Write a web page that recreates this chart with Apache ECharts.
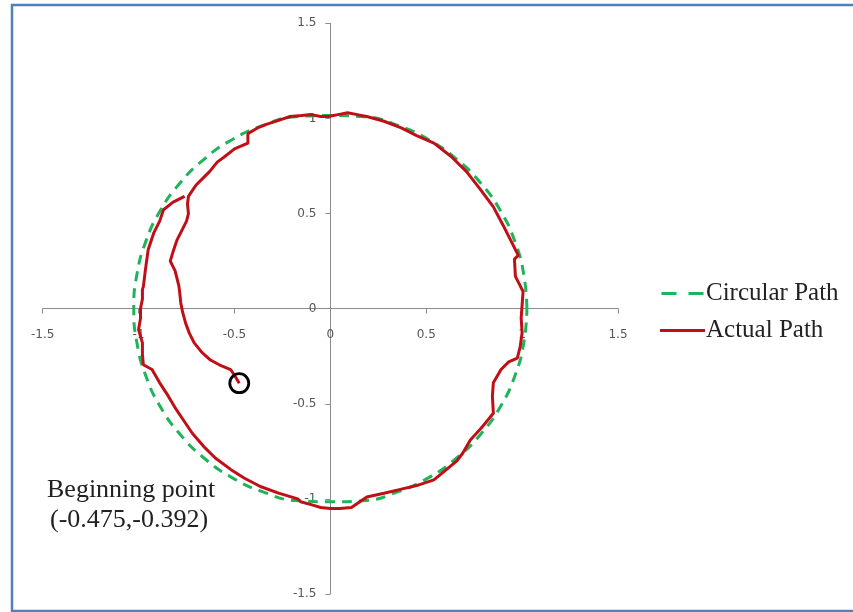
<!DOCTYPE html>
<html>
<head>
<meta charset="utf-8">
<script src="https://cdn.jsdelivr.net/npm/echarts@6/dist/echarts.min.js"></script>
<style>
html,body{margin:0;padding:0;background:#fff;}
#chart{width:853px;height:612px;}
</style>
</head>
<body>
<div id="chart"></div>
<script>
// Axis ticks
const xTicks = [-1.5, -1, -0.5, 0, 0.5, 1, 1.5];
const yTicks = [-1.5, -1, -0.5, 0, 0.5, 1, 1.5];

// Circular (reference) path, read every 10 degrees
const circleX = [1.025, 1.009, 0.963, 0.888, 0.785, 0.659, 0.513, 0.351, 0.178, 0,
  -0.178, -0.351, -0.513, -0.659, -0.785, -0.888, -0.963, -1.009, -1.025,
  -1.009, -0.963, -0.888, -0.785, -0.659, -0.513, -0.351, -0.178, 0,
  0.178, 0.351, 0.513, 0.659, 0.785, 0.888, 0.963, 1.009, 1.025];
const circleY = [0, 0.178, 0.351, 0.513, 0.659, 0.785, 0.888, 0.963, 1.009, 1.015,
  1.009, 0.963, 0.888, 0.785, 0.659, 0.513, 0.351, 0.178, 0,
  -0.178, -0.351, -0.513, -0.659, -0.785, -0.888, -0.963, -1.009, -1.015,
  -1.009, -0.963, -0.888, -0.785, -0.659, -0.513, -0.351, -0.178, 0];

// Actual path
const actualX = [-0.475, -0.50, -0.52, -0.57, -0.625, -0.67, -0.71, -0.735, -0.755, -0.77,
  -0.78, -0.785, -0.79, -0.80, -0.81, -0.835, -0.82, -0.80, -0.78, -0.75,
  -0.74, -0.745, -0.74, -0.72, -0.70, -0.66, -0.63, -0.59, -0.55, -0.50,
  -0.43, -0.43, -0.38, -0.33, -0.27, -0.21, -0.15, -0.10, -0.05, -0.01,
  0.04, 0.09, 0.14, 0.19, 0.28, 0.37, 0.45, 0.54, 0.63, 0.71,
  0.78, 0.85, 0.90, 0.94, 0.98, 0.96, 0.965, 0.99, 1.005, 1.0,
  0.995, 1.0, 0.99, 0.975, 0.93, 0.89, 0.85, 0.845, 0.85, 0.81,
  0.78, 0.73, 0.69, 0.66, 0.60, 0.54, 0.45, 0.365, 0.28, 0.19,
  0.11, 0.05, 0.0, -0.05, -0.10, -0.155, -0.17, -0.27, -0.365, -0.45,
  -0.52, -0.60, -0.66, -0.72, -0.77, -0.81, -0.845, -0.89, -0.93, -0.975,
  -0.98, -0.98, -1.0, -0.99, -0.99, -0.98, -0.98, -0.975, -0.965, -0.95,
  -0.92, -0.89, -0.87, -0.82, -0.76];
const actualY = [-0.392, -0.35, -0.32, -0.30, -0.27, -0.23, -0.18, -0.13, -0.075, -0.02,
  0.03, 0.08, 0.12, 0.16, 0.20, 0.25, 0.30, 0.36, 0.40, 0.46,
  0.50, 0.55, 0.59, 0.62, 0.65, 0.69, 0.72, 0.77, 0.80, 0.84,
  0.87, 0.92, 0.95, 0.97, 0.99, 1.01, 1.015, 1.02, 1.01, 1.01,
  1.02, 1.03, 1.02, 1.01, 0.985, 0.95, 0.91, 0.87, 0.80, 0.72,
  0.63, 0.535, 0.44, 0.36, 0.28, 0.26, 0.17, 0.12, 0.09, 0.02,
  -0.05, -0.126, -0.20, -0.26, -0.28, -0.32, -0.39, -0.46, -0.55, -0.60,
  -0.635, -0.69, -0.76, -0.80, -0.85, -0.90, -0.93, -0.95, -0.97, -0.99,
  -1.045, -1.05, -1.05, -1.045, -1.03, -1.015, -1.0, -0.97, -0.935, -0.89,
  -0.845, -0.785, -0.725, -0.655, -0.58, -0.52, -0.46, -0.39, -0.32, -0.295,
  -0.24, -0.18, -0.11, -0.05, 0.0, 0.05, 0.10, 0.116, 0.20, 0.31,
  0.40, 0.46, 0.52, 0.56, 0.59];

// Beginning point
const startPoint = [-0.475, -0.392];

const circleData = circleX.map((x, i) => [x, circleY[i]]);
const actualData = actualX.map((x, i) => [x, actualY[i]]);

const chart = echarts.init(document.getElementById('chart'));
const labelStyle = {color: '#555555', fontFamily: 'DejaVu Sans', fontSize: 12};
const gridBox = {left: 42.7, top: 23.3, width: 575.3, height: 570.7};
function buildOption(xOffset, yOffset) {
  return {
    animation: false,
    backgroundColor: '#fff',
    grid: Object.assign({containLabel: false, outerBoundsMode: 'none'}, gridBox),
    xAxis: {
      type: 'value', min: -1.5, max: 1.5, interval: 0.5, offset: xOffset,
      axisLine: {onZero: false, lineStyle: {color: '#8c8c8c', width: 1}},
      axisTick: {show: true, length: 5, lineStyle: {color: '#8c8c8c'}},
      splitLine: {show: false},
      axisLabel: Object.assign({margin: 20, formatter: v => xTicks.includes(v) ? String(v) : ''}, labelStyle)
    },
    yAxis: {
      type: 'value', min: -1.5, max: 1.5, interval: 0.5, offset: yOffset,
      axisLine: {onZero: false, lineStyle: {color: '#8c8c8c', width: 1}},
      axisTick: {show: true, length: 5, lineStyle: {color: '#8c8c8c'}},
      splitLine: {show: false},
      axisLabel: Object.assign({margin: 14, formatter: v => yTicks.includes(v) ? String(v) : ''}, labelStyle)
    },
    legend: {
      orient: 'vertical', left: 655, top: 276,
      itemWidth: 45, itemHeight: 3, itemGap: 12,
      textStyle: {fontFamily: 'Liberation Serif', fontSize: 25, color: '#222', padding: [0,0,0,-4]},
      data: [
        {name: 'Circular Path', icon: 'path://M0,0H15V3H0Z M27,0H42V3H27Z'},
        {name: 'Actual Path', icon: 'path://M0,0H45V3H0Z'}
      ]
    },
    series: [
      {
        name: 'Circular Path', type: 'line', data: circleData, smooth: true,
        showSymbol: false, symbol: 'none',
        lineStyle: {color: '#1fb35a', width: 3, type: [10, 7]},
        itemStyle: {color: '#1fb35a'}, z: 2
      },
      {
        name: 'Actual Path', type: 'line', data: actualData,
        showSymbol: false, symbol: 'none',
        lineStyle: {color: '#c00f16', width: 3},
        itemStyle: {color: '#c00f16'}, z: 3
      },
      {
        name: 'start', type: 'scatter', data: [startPoint],
        symbol: 'circle', symbolSize: 19,
        itemStyle: {color: 'rgba(0,0,0,0)', borderColor: '#000', borderWidth: 2.8, opacity: 1}, z: 4
      }
    ],
    graphic: [
      {type: 'rect', shape: {x: 12, y: 5, width: 860, height: 606},
       style: {fill: 'none', stroke: '#4f81bd', lineWidth: 2.5}, silent: true},
      {type: 'text', left: 47, top: 477,
       style: {text: 'Beginning point', font: '26px "Liberation Serif"', fill: '#222'}},
      {type: 'text', left: 50, top: 507,
       style: {text: '(-0.475,-0.392)', font: '26px "Liberation Serif"', fill: '#222'}}
    ]
  };
}
chart.setOption(buildOption(0, 0));
// Move both axes (line, ticks, labels) so they cross at the data origin
const origin = chart.convertToPixel({gridIndex: 0}, [0, 0]);
const xOff = -((gridBox.top + gridBox.height) - origin[1]);
const yOff = -(origin[0] - gridBox.left);
chart.setOption(buildOption(xOff, yOff));
</script>
</body>
</html>
